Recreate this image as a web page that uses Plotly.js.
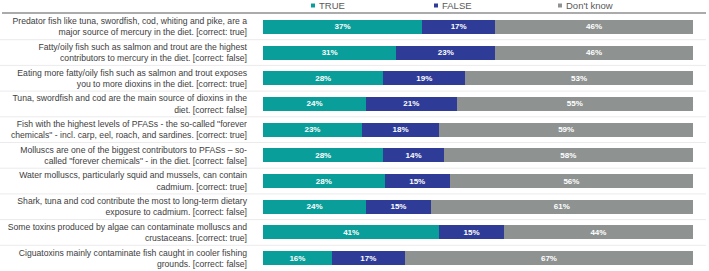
<!DOCTYPE html>
<html>
<head>
<meta charset="utf-8">
<script src="https://cdn.plot.ly/plotly-3.0.1.min.js"></script>
<style>
  html, body { margin: 0; padding: 0; background: #ffffff; }
  #chart { width: 709px; height: 271px; }
</style>
</head>
<body>
<div id="chart"></div>
<script>
// Statements about contaminants in fish and seafood
const statements = [
  "Predator fish like tuna, swordfish, cod, whiting and pike, are a<br>major source of mercury in the diet. [correct: true]",
  "Fatty/oily fish such as salmon and trout are the highest<br>contributors to mercury in the diet. [correct: false]",
  "Eating more fatty/oily fish such as salmon and trout exposes<br>you to more dioxins in the diet. [correct: true]",
  "Tuna, swordfish and cod are the main source of dioxins in the<br>diet. [correct: false]",
  "Fish with the highest levels of PFASs - the so-called \"forever<br>chemicals\" - incl. carp, eel, roach, and sardines. [correct: true]",
  "Molluscs are one of the biggest contributors to PFASs \u2013 so-<br>called \"forever chemicals\" - in the diet. [correct: false]",
  "Water molluscs, particularly squid and mussels, can contain<br>cadmium. [correct: true]",
  "Shark, tuna and cod contribute the most to long-term dietary<br>exposure to cadmium. [correct: false]",
  "Some toxins produced by algae can contaminate molluscs and<br>crustaceans. [correct: true]",
  "Ciguatoxins mainly contaminate fish caught in cooler fishing<br>grounds. [correct: false]"
];

// Share of answers per statement (%)
const trueShare = [37, 31, 28, 24, 23, 28, 28, 24, 41, 16];
const falseShare = [17, 23, 19, 21, 18, 14, 15, 15, 15, 17];
const dontKnowShare = [46, 46, 53, 55, 59, 58, 56, 61, 44, 67];

const seriesNames = ["TRUE", "FALSE", "Don't know"];
const seriesValues = [trueShare, falseShare, dontKnowShare];
const seriesColors = ["#0a9e9a", "#2e3c98", "#8e9392"];

const FONT = "Liberation Sans, Arial, sans-serif";
const W = 709, H = 271;

const traces = seriesValues.map((vals, i) => ({
  type: "bar",
  orientation: "h",
  name: seriesNames[i],
  y: statements,
  x: vals,
  text: vals.map(v => v + "%"),
  textposition: "inside",
  insidetextanchor: "middle",
  constraintext: "none",
  textfont: { family: FONT, size: 8, color: "#ffffff", weight: "bold" },
  marker: { color: seriesColors[i], line: { width: 0 } },
  showlegend: false,
  hoverinfo: "skip"
}));

// Light separators between the rows, spanning label column and bars
const separators = statements.slice(1).map((_, i) => ({
  type: "line", xref: "paper", yref: "y",
  x0: 0, x1: 706 / W, y0: i + 0.5, y1: i + 0.5,
  line: { color: "#ebebeb", width: 1 }
}));

// Header rule under the key
const header = {
  type: "line", xref: "paper", yref: "paper",
  x0: 2 / W, x1: 706 / W, y0: 1 - 13 / H, y1: 1 - 13 / H,
  line: { color: "#8f8f8f", width: 1.5 }
};

// Key: small squares with series names
const keyX = [313, 436, 560];
const keyY = 1 - 5.5 / H;
const keyMarks = keyX.map((x, i) => ({
  type: "rect", xref: "paper", yref: "paper",
  x0: (x - 2) / W, x1: (x + 2) / W, y0: keyY - 2 / H, y1: keyY + 2 / H,
  fillcolor: seriesColors[i], line: { width: 0 }
}));
const keyText = keyX.map((x, i) => ({
  xref: "paper", yref: "paper",
  x: (x + 4) / W, y: keyY, xanchor: "left", yanchor: "middle",
  text: seriesNames[i], showarrow: false,
  font: { family: FONT, size: 9.5, color: "#595959" }
}));

const layout = {
  width: W, height: H,
  margin: { l: 0, r: 0, t: 0, b: 0, pad: 0 },
  paper_bgcolor: "#ffffff", plot_bgcolor: "#ffffff",
  barmode: "stack",
  barnorm: "percent",
  bargap: 0.455,
  showlegend: false,
  xaxis: {
    domain: [263 / W, 693 / W],
    range: [0, 100],
    visible: false,
    fixedrange: true
  },
  yaxis: {
    domain: [0, 1 - 14 / H],
    type: "category",
    range: [statements.length - 0.5, -0.5],
    showgrid: false, zeroline: false, showline: false,
    ticks: "",
    ticklabelstandoff: 15,
    automargin: false,
    tickfont: { family: FONT, size: 8.65, color: "#404040" },
    fixedrange: true
  },
  shapes: [header, ...separators, ...keyMarks],
  annotations: keyText
};

Plotly.newPlot("chart", traces, layout, { displayModeBar: false, staticPlot: true });
</script>
</body>
</html>
